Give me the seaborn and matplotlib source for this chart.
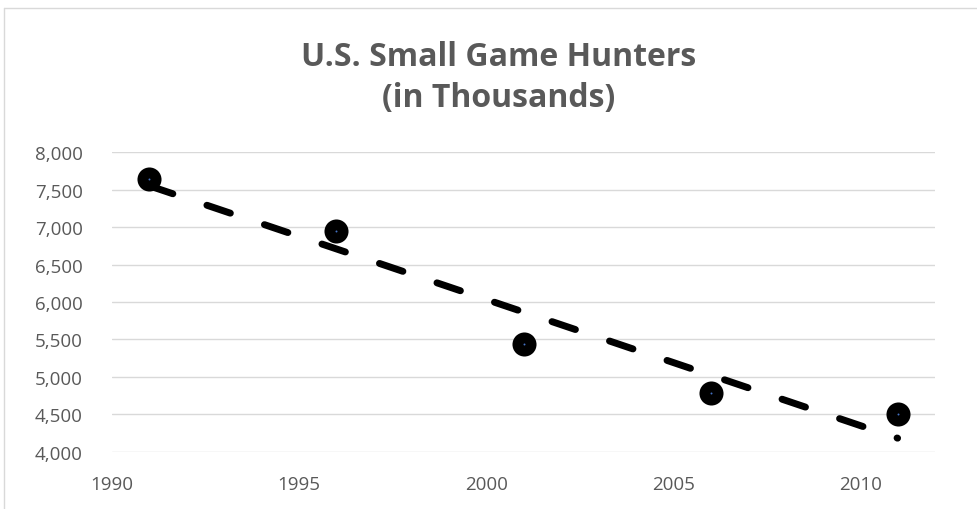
import matplotlib
matplotlib.use("Agg")
import matplotlib.pyplot as plt
import seaborn as sns
import numpy as np
from matplotlib.lines import Line2D
from matplotlib.ticker import FuncFormatter

# Data
years = [1991, 1996, 2001, 2006, 2011]
hunters = [7643, 6951, 5437, 4790, 4510]  # thousands
title = "U.S. Small Game Hunters\n(in Thousands)"
y_ticks = [4000, 4500, 5000, 5500, 6000, 6500, 7000, 7500, 8000]
x_ticks = [1990, 1995, 2000, 2005, 2010]

sns.set_theme(style="white")
plt.rcParams["font.family"] = ["Open Sans", "DejaVu Sans"]

W, H = 977, 510
fig = plt.figure(figsize=(W / 100, H / 100), dpi=100)
ax = fig.add_axes([112 / W, 1 - 452.7 / H, (935 - 112) / W, (452.7 - 153.3) / H])

grey_text = "#595959"
grid_col = "#D9D9D9"

sns.regplot(
    x=years, y=hunters, ax=ax, ci=None, truncate=True,
    scatter_kws=dict(s=300, color="black", linewidths=0, alpha=1, zorder=3),
    line_kws=dict(color="black", lw=5, dashes=(3.56, 5.18),
                  dash_capstyle="round", solid_capstyle="round", zorder=4),
)
# tiny blue centre of each marker
sns.scatterplot(x=years, y=hunters, ax=ax, s=2, color="#4472C4",
                linewidth=0, zorder=5, legend=False)

ax.set_xlim(1990, 2012)
ax.set_ylim(4000, 8000)
ax.set_yticks(y_ticks)
ax.set_xticks(x_ticks)
ax.yaxis.set_major_formatter(FuncFormatter(lambda v, p: f"{int(v):,}"))
ax.set_xlabel("")
ax.set_ylabel("")
ax.yaxis.grid(True, color=grid_col, lw=1.0)
ax.xaxis.grid(False)
ax.set_axisbelow(True)
for s in ax.spines.values():
    s.set_visible(False)
ax.tick_params(axis="y", length=0, pad=21, labelsize=13.5, labelcolor=grey_text)
ax.tick_params(axis="x", length=0, pad=17, labelsize=13.5, labelcolor=grey_text)

fig.text(499 / W, 1 - 78 / H, title, ha="center", va="center",
         fontsize=23, fontweight="bold", color=grey_text, linespacing=1.35)

# chart border (top and left visible)
fig.add_artist(Line2D([4 / W, 1.0], [1 - 9 / H, 1 - 9 / H], transform=fig.transFigure,
                      color=grid_col, lw=1.0))
fig.add_artist(Line2D([4 / W, 4 / W], [1 - 9 / H, 0.0], transform=fig.transFigure,
                      color=grid_col, lw=1.0))

fig.savefig("out.png", dpi=100)
